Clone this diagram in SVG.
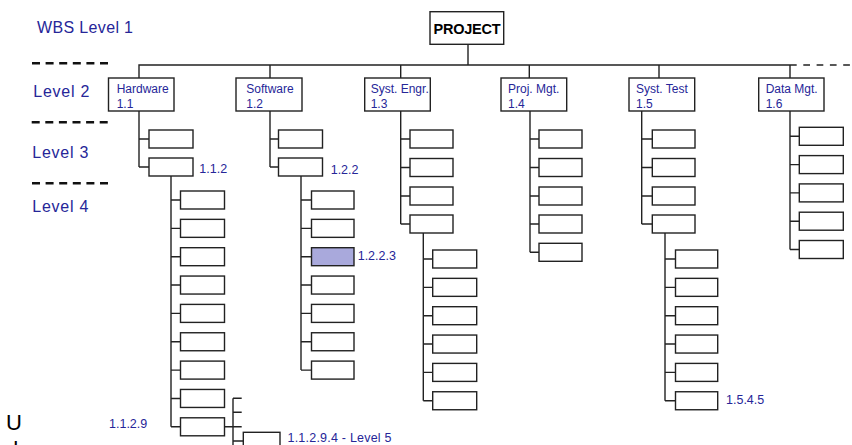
<svg xmlns="http://www.w3.org/2000/svg" width="852" height="445" viewBox="0 0 852 445">
<style>
.box{fill:#fff;stroke:#222;stroke-width:1.4}
.hl{fill:#a9a9dc;stroke:#222;stroke-width:1.4}
.ln{fill:none;stroke:#222;stroke-width:1.4}
.t{font-family:"Liberation Sans",Arial,sans-serif;fill:#262698}
.s{font-size:12px}
.lb{font-size:12.5px}
.lv{font-size:16px}
.dash{stroke:#111;stroke-width:2.6;stroke-dasharray:8 5.6}
</style>
<rect width="852" height="445" fill="#fff"/>
<g id="levels">
<text class="t lv" x="37" y="32.5" textLength="96" lengthAdjust="spacing">WBS Level 1</text>
<text class="t lv" x="33.3" y="96.7" textLength="56" lengthAdjust="spacing">Level 2</text>
<text class="t lv" x="32.3" y="157.7" textLength="56" lengthAdjust="spacing">Level 3</text>
<text class="t lv" x="32.3" y="212.3" textLength="56" lengthAdjust="spacing">Level 4</text>
<line class="dash" x1="32" y1="63.3" x2="109" y2="63.3"/>
<line class="dash" x1="31.7" y1="122.3" x2="108.5" y2="122.3"/>
<line class="dash" x1="32" y1="183.3" x2="109" y2="183.3"/>
</g>
<g id="connectors">
<path class="ln" d="M139,78V65H790M468,44.3V65M270,65V78M400.7,65V78M529.3,65V78M659,65V78M790,65V78"/>
<path class="ln" d="M790,65H852" stroke-dasharray="6.7 6.6"/>
<path class="ln" d="M139,111V167M139,139H149M139,167H149"/>
<path class="ln" d="M270,111V167M270,139H278.5M270,167H278.5"/>
<path class="ln" d="M171,176V426.8M171,200H180.5M171,228.35H180.5M171,256.7H180.5M171,285.05H180.5M171,313.4H180.5M171,341.75H180.5M171,370.1H180.5M171,398.45H180.5M171,426.8H180.5"/>
<path class="ln" d="M301,176V370.1M301,200H311.5M301,228.35H311.5M301,256.7H311.5M301,285.05H311.5M301,313.4H311.5M301,341.75H311.5M301,370.1H311.5"/>
<path class="ln" d="M400.7,111V224M400.7,139H410M400.7,167.5H410M400.7,196H410M400.7,224H410"/>
<path class="ln" d="M423.3,233V400.75M423.3,259H432.7M423.3,287.35H432.7M423.3,315.7H432.7M423.3,344.05H432.7M423.3,372.4H432.7M423.3,400.75H432.7"/>
<path class="ln" d="M530,111V252.3M530,139H539M530,167.5H539M530,196H539M530,224H539M530,252.3H539"/>
<path class="ln" d="M641.7,111V224M641.7,139H652.3M641.7,167.5H652.3M641.7,196H652.3M641.7,224H652.3"/>
<path class="ln" d="M665,233V400.75M665,259H675.5M665,287.35H675.5M665,315.7H675.5M665,344.05H675.5M665,372.4H675.5M665,400.75H675.5"/>
<path class="ln" d="M790,111V249.5M790,136.3H799.3M790,164.6H799.3M790,192.9H799.3M790,221.2H799.3M790,249.5H799.3"/>
<path class="ln" d="M224.5,426.8H233M233,398.3V445M233,398.3H241.7M233,412.3H241.7M233,426.8H241.7M233,441H243.3"/>
</g>
<g id="project">
<rect class="box" x="430" y="11.7" width="73.7" height="32.6"/>
<text x="433.5" y="34.3" font-family="'Liberation Sans',Arial,sans-serif" font-size="14.5" font-weight="bold" fill="#000" textLength="67" lengthAdjust="spacing">PROJECT</text>
</g>
<g id="n1-1">
<rect class="box" x="108.5" y="78" width="65.5" height="33"/>
<text class="t s" x="116.7" y="93.3">Hardware</text>
<text class="t s" x="116.7" y="107.8">1.1</text>
</g>
<g id="n1-2">
<rect class="box" x="236" y="78" width="66" height="33"/>
<text class="t s" x="246.3" y="93.3">Software</text>
<text class="t s" x="246.3" y="107.8">1.2</text>
</g>
<g id="n1-3">
<rect class="box" x="364.7" y="78" width="65.6" height="33"/>
<text class="t s" x="370.7" y="93.3">Syst. Engr.</text>
<text class="t s" x="370.7" y="107.8">1.3</text>
</g>
<g id="n1-4">
<rect class="box" x="501" y="78" width="65.7" height="33"/>
<text class="t s" x="508" y="93.3">Proj. Mgt.</text>
<text class="t s" x="508" y="107.8">1.4</text>
</g>
<g id="n1-5">
<rect class="box" x="629" y="78" width="65.7" height="33"/>
<text class="t s" x="636" y="93.3">Syst. Test</text>
<text class="t s" x="636" y="107.8">1.5</text>
</g>
<g id="n1-6">
<rect class="box" x="758.7" y="78" width="65.3" height="33"/>
<text class="t s" x="765.7" y="93.3">Data Mgt.</text>
<text class="t s" x="765.7" y="107.8">1.6</text>
</g>
<g id="hw-l3">
<rect class="box" x="149" y="130" width="44" height="18"/>
<rect class="box" x="149" y="158" width="44" height="18"/>
<text class="t lb" x="199.3" y="173.3">1.1.2</text>
</g>
<g id="sw-l3">
<rect class="box" x="278.5" y="130" width="44" height="18"/>
<rect class="box" x="278.5" y="158" width="44" height="18"/>
<text class="t lb" x="330.7" y="173.5">1.2.2</text>
</g>
<g id="hw-l4">
<rect class="box" x="180.5" y="191" width="44" height="18"/>
<rect class="box" x="180.5" y="219.35" width="44" height="18"/>
<rect class="box" x="180.5" y="247.7" width="44" height="18"/>
<rect class="box" x="180.5" y="276.05" width="44" height="18"/>
<rect class="box" x="180.5" y="304.4" width="44" height="18"/>
<rect class="box" x="180.5" y="332.75" width="44" height="18"/>
<rect class="box" x="180.5" y="361.1" width="44" height="18"/>
<rect class="box" x="180.5" y="389.45" width="44" height="18"/>
<rect class="box" x="180.5" y="417.8" width="44" height="18"/>
<text class="t lb" x="109" y="427.5">1.1.2.9</text>
</g>
<g id="sw-l4">
<rect class="box" x="311.5" y="191" width="42.5" height="18"/>
<rect class="box" x="311.5" y="219.35" width="42.5" height="18"/>
<rect class="hl" x="311.5" y="247.7" width="42.5" height="18"/>
<rect class="box" x="311.5" y="276.05" width="42.5" height="18"/>
<rect class="box" x="311.5" y="304.4" width="42.5" height="18"/>
<rect class="box" x="311.5" y="332.75" width="42.5" height="18"/>
<rect class="box" x="311.5" y="361.1" width="42.5" height="18"/>
<text class="t lb" x="357.7" y="259.8">1.2.2.3</text>
</g>
<g id="se-l3">
<rect class="box" x="410" y="130" width="43" height="18"/>
<rect class="box" x="410" y="158.5" width="43" height="18"/>
<rect class="box" x="410" y="187" width="43" height="18"/>
<rect class="box" x="410" y="215" width="43" height="18"/>
</g>
<g id="se-l4">
<rect class="box" x="432.7" y="250" width="44" height="18"/>
<rect class="box" x="432.7" y="278.35" width="44" height="18"/>
<rect class="box" x="432.7" y="306.7" width="44" height="18"/>
<rect class="box" x="432.7" y="335.05" width="44" height="18"/>
<rect class="box" x="432.7" y="363.4" width="44" height="18"/>
<rect class="box" x="432.7" y="391.75" width="44" height="18"/>
</g>
<g id="pm-l3">
<rect class="box" x="539" y="130" width="43" height="18"/>
<rect class="box" x="539" y="158.5" width="43" height="18"/>
<rect class="box" x="539" y="187" width="43" height="18"/>
<rect class="box" x="539" y="215" width="43" height="18"/>
<rect class="box" x="539" y="243.3" width="43" height="18"/>
</g>
<g id="st-l3">
<rect class="box" x="652.3" y="130" width="42.7" height="18"/>
<rect class="box" x="652.3" y="158.5" width="42.7" height="18"/>
<rect class="box" x="652.3" y="187" width="42.7" height="18"/>
<rect class="box" x="652.3" y="215" width="42.7" height="18"/>
</g>
<g id="st-l4">
<rect class="box" x="675.5" y="250" width="42.2" height="18"/>
<rect class="box" x="675.5" y="278.35" width="42.2" height="18"/>
<rect class="box" x="675.5" y="306.7" width="42.2" height="18"/>
<rect class="box" x="675.5" y="335.05" width="42.2" height="18"/>
<rect class="box" x="675.5" y="363.4" width="42.2" height="18"/>
<rect class="box" x="675.5" y="391.75" width="42.2" height="18"/>
<text class="t lb" x="726" y="404.3">1.5.4.5</text>
</g>
<g id="dm-l3">
<rect class="box" x="799.3" y="127.3" width="44" height="18"/>
<rect class="box" x="799.3" y="155.6" width="44" height="18"/>
<rect class="box" x="799.3" y="183.9" width="44" height="18"/>
<rect class="box" x="799.3" y="212.2" width="44" height="18"/>
<rect class="box" x="799.3" y="240.5" width="44" height="18"/>
</g>
<g id="l5">
<rect class="box" x="243.3" y="432.3" width="36.7" height="18"/>
<text class="t lb" x="287.5" y="441.5" textLength="104" lengthAdjust="spacing">1.1.2.9.4 - Level 5</text>
</g>
<g id="fragments">
<text x="6" y="430" font-family="'Liberation Sans',Arial,sans-serif" font-size="22" fill="#000">U</text>
<text x="6" y="457" font-family="'Liberation Sans',Arial,sans-serif" font-size="22" fill="#000">d</text>
</g>
</svg>
